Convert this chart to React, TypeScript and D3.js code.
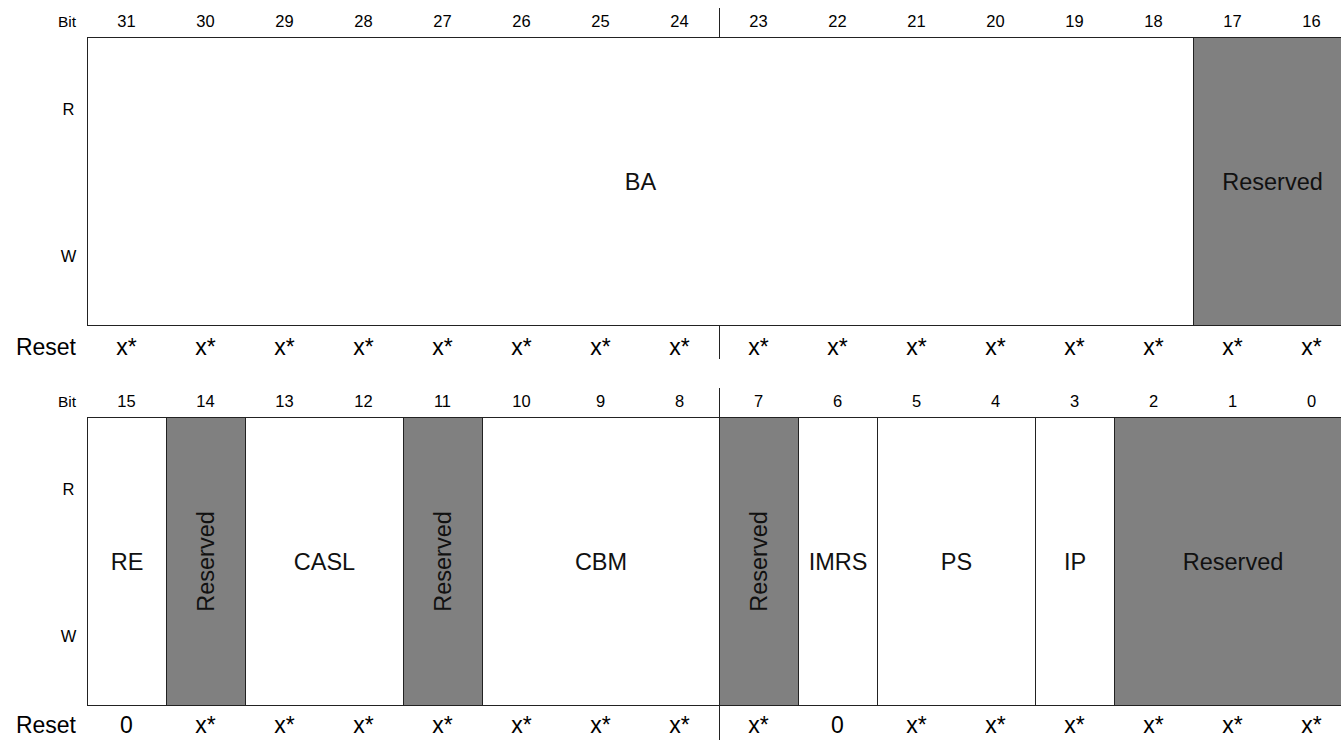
import React from "react";
import * as d3 from "d3";

const bitsTop = ["31","30","29","28","27","26","25","24","23","22","21","20","19","18","17","16"];
const bitsBottom = ["15","14","13","12","11","10","9","8","7","6","5","4","3","2","1","0"];

const fieldsTop = [
  { name: "BA", msb: 31, lsb: 18, reserved: false },
  { name: "Reserved", msb: 17, lsb: 16, reserved: true },
];
const fieldsBottom = [
  { name: "RE", msb: 15, lsb: 15, reserved: false },
  { name: "Reserved", msb: 14, lsb: 14, reserved: true },
  { name: "CASL", msb: 13, lsb: 12, reserved: false },
  { name: "Reserved", msb: 11, lsb: 11, reserved: true },
  { name: "CBM", msb: 10, lsb: 8, reserved: false },
  { name: "Reserved", msb: 7, lsb: 7, reserved: true },
  { name: "IMRS", msb: 6, lsb: 6, reserved: false },
  { name: "PS", msb: 5, lsb: 4, reserved: false },
  { name: "IP", msb: 3, lsb: 3, reserved: false },
  { name: "Reserved", msb: 2, lsb: 0, reserved: true },
];
const resetTop = ["x*","x*","x*","x*","x*","x*","x*","x*","x*","x*","x*","x*","x*","x*","x*","x*"];
const resetBottom = ["0","x*","x*","x*","x*","x*","x*","x*","x*","0","x*","x*","x*","x*","x*","x*"];

const FONT = "'Liberation Sans', Arial, Helvetica, sans-serif";
const GRAY = "#808080";
const STROKE = "#222";

type Field = { name: string; msb: number; lsb: number; reserved: boolean };

function Register({
  bits, fields, reset, base, top, resetY, divEnd,
}: { bits: string[]; fields: Field[]; reset: string[]; base: number; top: number; resetY: number; divEnd: number }) {
  const x = d3.scaleLinear().domain([0, 16]).range([87, 87 + 16 * 79]);
  const boxTop = top + 37.5;
  const boxBottom = top + 325.5;
  const y = d3.scaleLinear().domain([0, 1]).range([boxTop, boxBottom]);
  const mid = (boxTop + boxBottom) / 2;
  const col = (b: number) => base + 15 - b;
  const divX = Math.round(x(8)) + 0.5;
  return (
    <g>
      <text x={76} y={top + 27} textAnchor="end" fontSize={15.5}>Bit</text>
      {bits.map((b, i) => (
        <text key={"b" + i} x={x(i + 0.5)} y={top + 27} textAnchor="middle" fontSize={16.5}>{b}</text>
      ))}
      <text x={68.5} y={top + 115} textAnchor="middle" fontSize={16.5}>R</text>
      <text x={68.5} y={top + 262} textAnchor="middle" fontSize={16.5}>W</text>
      {fields.map((f, i) => {
        const c0 = col(f.msb);
        const c1 = col(f.lsb) + 1;
        const x0 = Math.round(x(c0)) + 0.5;
        const x1 = Math.round(x(c1)) + 0.5;
        const cx = (x0 + x1) / 2;
        const vertical = f.reserved && f.msb === f.lsb;
        return (
          <g key={"f" + i}>
            <rect x={x0} y={y(0)} width={x1 - x0} height={y(1) - y(0)}
              fill={f.reserved ? GRAY : "#fff"} stroke={STROKE} strokeWidth={1} />
            {vertical ? (
              <text transform={`translate(${cx + 8},${mid}) rotate(-90)`} textAnchor="middle"
                fontSize={23.5} fill="#111">{f.name}</text>
            ) : (
              <text x={cx} y={mid + 8} textAnchor="middle" fontSize={23.5} fill="#111">{f.name}</text>
            )}
          </g>
        );
      })}
      <line x1={divX} x2={divX} y1={top + 8} y2={boxTop} stroke={STROKE} strokeWidth={1} />
      <line x1={divX} x2={divX} y1={boxBottom} y2={top + divEnd} stroke={STROKE} strokeWidth={1} />
      <text x={76} y={top + resetY} textAnchor="end" fontSize={23}>Reset</text>
      {reset.map((r, i) => (
        <text key={"r" + i} x={x(i + 0.5)} y={top + resetY} textAnchor="middle" fontSize={23}>{r}</text>
      ))}
    </g>
  );
}

export default function App() {
  return (
    <svg width={1341} height={740} style={{ position: "absolute", left: 0, top: 0, display: "block", background: "#fff" }}
      fontFamily={FONT}>
      <rect x={0} y={0} width={1341} height={740} fill="#fff" />
      <Register bits={bitsTop} fields={fieldsTop} reset={resetTop} base={16} top={0} resetY={355} divEnd={359} />
      <Register bits={bitsBottom} fields={fieldsBottom} reset={resetBottom} base={0} top={380} resetY={353} divEnd={362} />
    </svg>
  );
}
